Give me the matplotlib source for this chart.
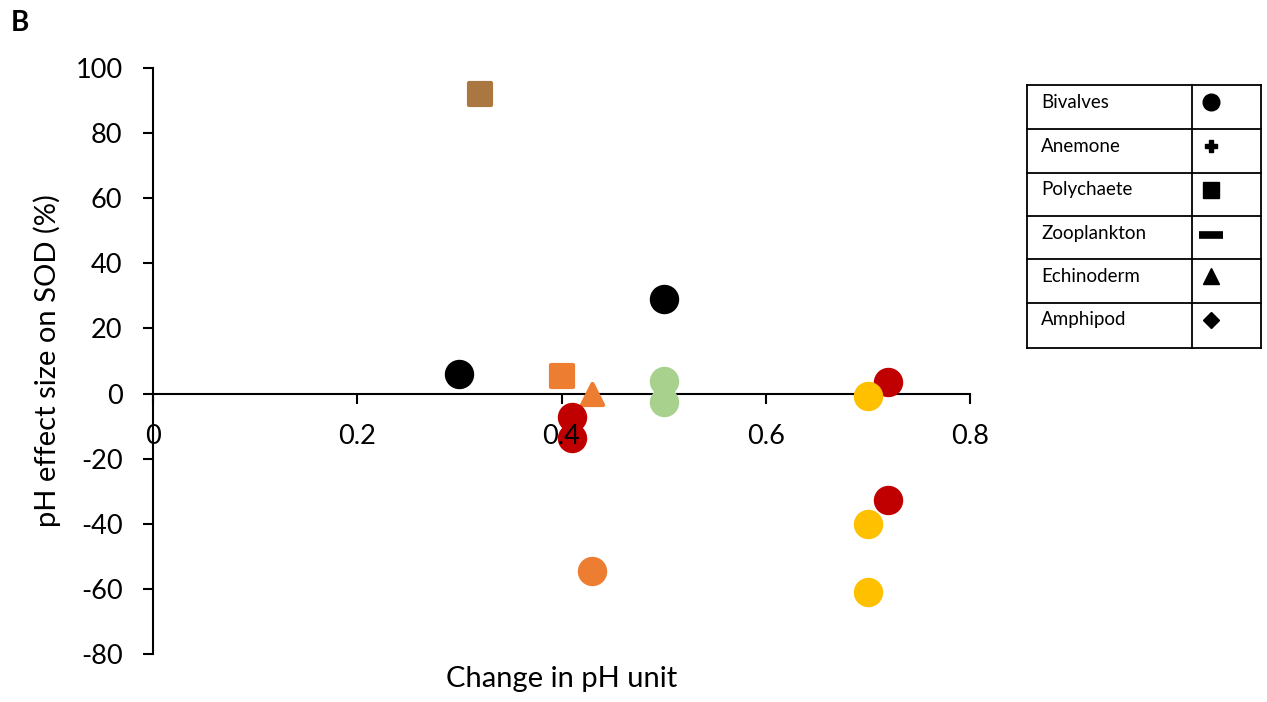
import matplotlib
matplotlib.use("Agg")
import matplotlib.pyplot as plt
from matplotlib.markers import MarkerStyle

# ---------------------------------------------------------------------------
# Data
# ---------------------------------------------------------------------------
black_x = [0.30, 0.50]
black_y = [6.1, 29.1]

brown_sq_x = [0.32]
brown_sq_y = [92.0]

orange_sq_x = [0.40]
orange_sq_y = [5.5]

orange_tri_x = [0.43]
orange_tri_y = [-0.2]

orange_x = [0.43]
orange_y = [-54.6]

red_x = [0.41, 0.41, 0.72, 0.72]
red_y = [-7.1, -13.5, 3.4, -32.8]

green_x = [0.50, 0.50]
green_y = [4.0, -2.5]

yellow_x = [0.70, 0.70, 0.70]
yellow_y = [-0.9, -40.2, -61.0]

legend_names = ["Bivalves", "Anemone", "Polychaete", "Zooplankton", "Echinoderm", "Amphipod"]
legend_markers = ["o", "P", "s", "_", "^", "D"]

x_ticks = [0, 0.2, 0.4, 0.6, 0.8]
x_tick_labels = ["0", "0.2", "0.4", "0.6", "0.8"]
y_ticks = list(range(-80, 101, 20))

# ---------------------------------------------------------------------------
# Styling
# ---------------------------------------------------------------------------
plt.rcParams["font.family"] = ["Lato", "DejaVu Sans"]
plt.rcParams["axes.unicode_minus"] = False

COL_BLACK = "#000000"
COL_BROWN = "#A9773F"
COL_ORANGE = "#ED7D31"
COL_RED = "#C00000"
COL_GREEN = "#A9D18E"
COL_YELLOW = "#FFC000"
MS = 330

fig = plt.figure(figsize=(12.67, 7.02), dpi=100)
ax = fig.add_axes([153 / 1267, 1 - 654 / 702, 817 / 1267, 586 / 702])
ax.set_axisbelow(False)


def _pts(x, y, color, marker="o", size=MS):
    ax.scatter(x, y, s=size, c=color,
               marker=MarkerStyle(marker, joinstyle="round"),
               edgecolors=color, linewidths=3, zorder=2)


_pts(black_x, black_y, COL_BLACK)
_pts(brown_sq_x, brown_sq_y, COL_BROWN, marker="s", size=250)
_pts(orange_sq_x, orange_sq_y, COL_ORANGE, marker="s", size=250)
_pts(orange_tri_x, orange_tri_y, COL_ORANGE, marker="^", size=230)
_pts(orange_x, orange_y, COL_ORANGE)
_pts(red_x, red_y, COL_RED)
_pts(green_x, green_y, COL_GREEN)
_pts(yellow_x, yellow_y, COL_YELLOW)

ax.set_xlim(0, 0.8)
ax.set_ylim(-80, 100)
ax.set_xticks(x_ticks)
ax.set_xticklabels(x_tick_labels)
ax.set_yticks(y_ticks)

for side in ("top", "right"):
    ax.spines[side].set_visible(False)
ax.spines["bottom"].set_position(("data", 0))
for side in ("left", "bottom"):
    ax.spines[side].set_linewidth(1.5)
    ax.spines[side].set_zorder(1)

ax.tick_params(axis="both", direction="out", length=7, width=1.5,
               labelsize=19.5)
ax.tick_params(axis="x", pad=15)
ax.tick_params(axis="y", pad=15)

ax.set_xlabel("Change in pH unit", fontsize=21, labelpad=0)
ax.xaxis.set_label_coords(0.5, -0.02)
ax.set_ylabel("pH effect size on SOD (%)", fontsize=21)
ax.yaxis.set_label_coords(-0.112, 0.5)

fig.text(11 / 1267, 1 - 23 / 702, "B", fontsize=20, fontweight="bold",
         va="center", ha="left")

# ---------------------------------------------------------------------------
# Legend table drawn as its own axes
# ---------------------------------------------------------------------------
row_edges = [85, 129, 173, 216, 259, 303, 348]
tx0, tx1, tcol = 1027, 1261, 1192
lax = fig.add_axes([tx0 / 1267, 1 - row_edges[-1] / 702,
                    (tx1 - tx0) / 1267, (row_edges[-1] - row_edges[0]) / 702])
lax.set_xlim(tx0, tx1)
lax.set_ylim(row_edges[-1], row_edges[0])
lax.axis("off")

for yy in row_edges:
    lax.plot([tx0, tx1], [yy, yy], color="black", lw=1.3, clip_on=False)
for xx in (tx0, tcol, tx1):
    lax.plot([xx, xx], [row_edges[0], row_edges[-1]], color="black", lw=1.3,
             clip_on=False)

marker_sizes = {"o": 12, "P": 9, "s": 11, "_": 17, "^": 11, "D": 8}
for i, (name, mk) in enumerate(zip(legend_names, legend_markers)):
    yc = row_edges[i] + 17
    lax.text(1041, yc, name, fontsize=13.5, va="center", ha="left")
    if mk == "_":
        lax.plot([1211], [yc + 2], marker=mk, markersize=marker_sizes[mk],
                 markeredgewidth=5.5, color="black", linestyle="none")
    else:
        lax.plot([1211], [yc], marker=mk, markersize=marker_sizes[mk],
                 color="black", linestyle="none")

fig.savefig("out.png", dpi=100)
